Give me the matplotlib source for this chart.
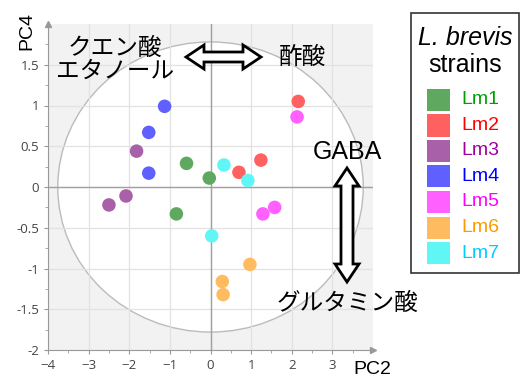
import matplotlib.pyplot as plt
from matplotlib.patches import Ellipse, Polygon, Rectangle
import numpy as np

plt.rcParams['font.family'] = ['Liberation Sans', 'Noto Sans CJK JP', 'DejaVu Sans']

W, H = 521, 379

strains = ['Lm1', 'Lm2', 'Lm3', 'Lm4', 'Lm5', 'Lm6', 'Lm7']
dot_colors = ['#5fa85f', '#ff6060', '#a860a8', '#6060ff', '#ff60ff', '#ffbb60', '#60f6f6']
text_colors = ['#00a000', '#ff0000', '#a000a0', '#0000ff', '#ff00ff', '#ff9900', '#00ccff']

# PC2, PC4 scores per strain (3 replicates)
pc2 = {
    'Lm1': [-0.59, -0.03, -0.84],
    'Lm2': [0.70, 1.24, 2.16],
    'Lm3': [-1.82, -2.08, -2.50],
    'Lm4': [-1.13, -1.52, -1.52],
    'Lm5': [2.13, 1.29, 1.58],
    'Lm6': [0.29, 0.31, 0.97],
    'Lm7': [0.33, 0.92, 0.03],
}
pc4 = {
    'Lm1': [0.29, 0.11, -0.33],
    'Lm2': [0.18, 0.33, 1.05],
    'Lm3': [0.44, -0.11, -0.22],
    'Lm4': [0.99, 0.67, 0.17],
    'Lm5': [0.86, -0.33, -0.25],
    'Lm6': [-1.16, -1.32, -0.95],
    'Lm7': [0.27, 0.08, -0.60],
}

x_ticks = [-4, -3, -2, -1, 0, 1, 2, 3]
y_ticks = [-2, -1.5, -1, -0.5, 0, 0.5, 1, 1.5]
y_ticklabels = ['-2', '-1.5', '-1', '-0.5', '0', '0.5', '1', '1.5']


def fx(x):
    return x / W


def fy(y):
    return 1 - y / H


fig = plt.figure(figsize=(W / 100, H / 100), dpi=100)
ax = fig.add_axes([fx(48), fy(350), (373 - 48) / W, (350 - 24) / H])
ax.set_facecolor('#f2f2f2')
ax.set_xlim(-4, 4)
ax.set_ylim(-2, 2)
ax.set_axisbelow(True)

ax.add_patch(Ellipse((0, 0), 2 * 3.76, 2 * 1.78, facecolor='white',
                     edgecolor='#bbbbbb', lw=1, zorder=0.1))
ax.set_xticks(x_ticks)
ax.set_yticks(y_ticks)
ax.set_yticklabels(y_ticklabels)
ax.set_xticks(np.arange(-3.5, 4, 1), minor=True)
ax.set_yticks(np.arange(-1.75, 2, 0.5), minor=True)
ax.grid(True, which='major', color='#e2e2e2', lw=0.9)
ax.axvline(0, color='#a0a0a0', lw=1, zorder=0.6)
ax.axhline(0, color='#a0a0a0', lw=1, zorder=0.6)

for s in ['top', 'right']:
    ax.spines[s].set_visible(False)
for s in ['left', 'bottom']:
    ax.spines[s].set_color('#999999')
ax.tick_params(which='both', colors='#999999', labelcolor='#444444',
               labelsize=9.5, length=3)
ax.tick_params(which='minor', length=2)
for lab in ax.get_xticklabels() + ax.get_yticklabels():
    lab.set_family('Open Sans')
ax.plot(1, 0, '>', color='#999999', ms=4, transform=ax.transAxes, clip_on=False)
ax.plot(0, 1, '^', color='#999999', ms=4, transform=ax.transAxes, clip_on=False)

for name, c in zip(strains, dot_colors):
    ax.scatter(pc2[name], pc4[name], s=95, color=c, edgecolors='none', zorder=3)

fig.text(fx(27), fy(31), 'PC4', rotation=90, fontsize=14, ha='center', va='center')
fig.text(fx(372), fy(370), 'PC2', fontsize=14, ha='center', va='center')


def double_arrow(x0, y0, x1, y1, shaft, head, head_len):
    # outline double arrow in figure pixels
    p0 = np.array([x0, y0], float)
    p1 = np.array([x1, y1], float)
    d = (p1 - p0) / np.linalg.norm(p1 - p0)
    n = np.array([-d[1], d[0]])
    a = p0 + d * head_len
    b = p1 - d * head_len
    pts = [p0, a + n * head / 2, a + n * shaft / 2, b + n * shaft / 2,
           b + n * head / 2, p1, b - n * head / 2, b - n * shaft / 2,
           a - n * shaft / 2, a - n * head / 2]
    pts = [(fx(p[0]), fy(p[1])) for p in pts]
    fig.patches.append(Polygon(pts, closed=True, facecolor='white', edgecolor='black',
                               lw=2, joinstyle='miter', transform=fig.transFigure))


double_arrow(186, 57, 261, 57, 10, 24, 18)
double_arrow(347, 168, 347, 282, 12, 24, 18)

fig.text(fx(115), fy(60), 'クエン酸\nエタノール', fontsize=17, ha='center', va='center',
         family='Noto Sans CJK JP', linespacing=1.0)
fig.text(fx(302), fy(57), '酢酸', fontsize=17, ha='center', va='center', family='Noto Sans CJK JP')
fig.text(fx(347), fy(152), 'GABA', fontsize=18, ha='center', va='center')
fig.text(fx(348), fy(303), 'グルタミン酸', fontsize=17, ha='center', va='center',
         family='Noto Sans CJK JP')

# legend box
fig.patches.append(Rectangle((fx(411), fy(273)), (519 - 411) / W, (273 - 13) / H,
                             facecolor='white', edgecolor='#333333', lw=1.2,
                             transform=fig.transFigure))
fig.text(fx(465), fy(38), 'L. brevis', fontsize=18, style='italic', ha='center', va='center')
fig.text(fx(465), fy(65), 'strains', fontsize=18, ha='center', va='center')
for i, (name, c, tc) in enumerate(zip(strains, dot_colors, text_colors)):
    yc = 100 + i * 25.5
    fig.patches.append(Rectangle((fx(427), fy(yc + 11)), 23 / W, 22 / H, facecolor=c,
                                 edgecolor='none', transform=fig.transFigure))
    fig.text(fx(461), fy(yc), name, fontsize=14, color=tc, ha='left', va='center')

fig.savefig('out.png', dpi=100)
